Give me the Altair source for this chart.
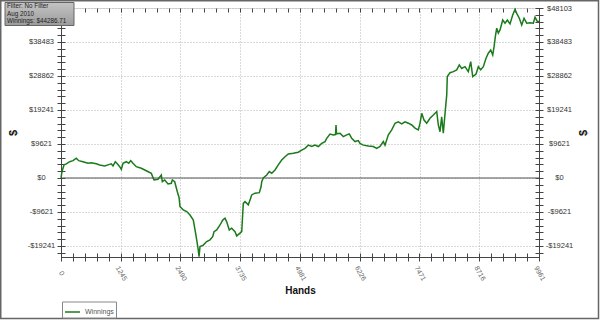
import altair as alt
import pandas as pd

hands = [
    0, 21, 63, 110, 181, 250, 319, 369, 458, 563,
    631, 736, 806, 911, 979, 1048, 1084, 1132, 1173, 1223,
    1257, 1292, 1361, 1411, 1453, 1500, 1569, 1673, 1778, 1882,
    1938, 2021, 2090, 2111, 2161, 2230, 2299, 2320, 2370, 2424,
    2460, 2480, 2549, 2620, 2688, 2757, 2793, 2828, 2861, 2876,
    2897, 2966, 3036, 3105, 3161, 3189, 3245, 3314, 3370, 3418,
    3453, 3507, 3557, 3626, 3662, 3730, 3766, 3799, 3835, 3903,
    3939, 3974, 4043, 4133, 4169, 4183, 4216, 4287, 4341, 4391,
    4460, 4528, 4599, 4668, 4737, 4841, 4945, 5016, 5085, 5154,
    5225, 5293, 5362, 5433, 5502, 5537, 5606, 5675, 5721, 5731,
    5742, 5814, 5883, 5954, 6008, 6058, 6127, 6196, 6231, 6300,
    6404, 6508, 6579, 6648, 6717, 6752, 6821, 6892, 6961, 7029,
    7100, 7169, 7239, 7309, 7377, 7446, 7482, 7517, 7565, 7621,
    7690, 7759, 7830, 7863, 7898, 7933, 7967, 8003, 8038, 8050,
    8107, 8176, 8246, 8300, 8350, 8419, 8488, 8538, 8580, 8649,
    8697, 8746, 8801, 8857, 8905, 8955, 8997, 9024, 9051, 9080,
    9113, 9149, 9205, 9253, 9301, 9357, 9413, 9461, 9497, 9551,
    9601, 9649, 9705, 9774, 9843, 9878, 9926, 9961,
]
winnings = [
    0, 1800, 3700, 4000, 4600, 4900, 5600, 4900, 4600, 4150,
    4300, 4000, 3700, 3400, 3700, 4000, 3400, 4600, 4000, 3200,
    2450, 4150, 4600, 4150, 4900, 4150, 3200, 2750, 2050, 1300,
    -570, -370, 850, -1050, -570, -1700, -1500, -570, -1050, -3900,
    -5500, -8100, -9050, -9500, -10500, -11900, -14700, -17500, -20400, -22300,
    -19400, -19000, -18000, -17500, -16600, -15200, -14700, -13300, -11900, -11400,
    -12400, -14700, -14200, -15200, -16400, -15600, -15200, -7200, -6700, -7600,
    -6200, -4800, -4300, -4150, -2500, -1050, 0, 850, 1800, 1350,
    2260, 3700, 5100, 6000, 6800, 7000, 7300, 7900, 8400, 9300,
    8900, 9300, 8900, 9800, 10300, 11200, 12450, 12200, 12300, 15000,
    12500, 12650, 11700, 12200, 12450, 11200, 10300, 10600, 9800, 9300,
    9050, 8900, 8400, 8900, 10300, 9300, 12200, 13600, 15500, 15900,
    15300, 15900, 15500, 15000, 14100, 13600, 15500, 18300, 16400, 15500,
    16900, 17800, 18800, 15000, 13100, 17300, 12650, 18300, 23500, 28700,
    29800, 30100, 30600, 32000, 31000, 31500, 30100, 32900, 28700, 29400,
    31500, 30600, 31500, 33900, 35300, 36200, 34800, 37100, 40000, 42400,
    41000, 41900, 44700, 43800, 44700, 43600, 46100, 47700, 46600, 45200,
    43300, 45200, 43800, 43900, 43800, 45500, 44300, 44286.71,
]
series_name = "Winnings"
x_tick_labels = [0, 1245, 2490, 3735, 4981, 6226, 7471, 8716, 9961]
y_tick_labels = [-19241, -9621, 0, 9621, 19241, 28862, 38483, 48103]
x_domain = [0, 9961]
y_domain = [-22360, 48103]
info_lines = ["Filter: No Filter", "Aug 2010", "Winnings: $44286.71"]


def with_minor(major, lo, hi):
    step = (major[1] - major[0]) / 5.0
    out = []
    v = major[0]
    while v - step >= lo:
        v -= step
    while v <= hi + 0.01:
        out.append(round(v, 2))
        v += step
    return out


x_all = with_minor(x_tick_labels, x_domain[0], x_domain[1])
y_all = with_minor(y_tick_labels, y_domain[0], y_domain[1])

FONT = "Liberation Sans"
AX = "#444444"
GRID = "#b4b4b4"

df = pd.DataFrame({"Hands": hands, "Winnings": winnings, "series": [series_name] * len(hands)})
one = pd.DataFrame({"a": [0]})
zero_df = pd.DataFrame({"zero": [0]})

xs = alt.Scale(domain=x_domain, nice=False, zero=False)
ys = alt.Scale(domain=y_domain, nice=False, zero=False)

y_label_expr = "datum.value < 0 ? '-$' + abs(datum.value) : '$' + datum.value"
# on the left the top label sits under the info box, as in the reference
y_label_expr_left = ("datum.value >= %d ? '' : (%s)" % (y_tick_labels[-1], y_label_expr))

line = alt.Chart(df).mark_line(strokeWidth=1.5).encode(
    x=alt.X("Hands:Q", scale=xs, axis=alt.Axis(
        values=x_tick_labels, orient="bottom", title="Hands", format="d",
        labelAngle=60, labelAlign="center", labelBaseline="middle", labelPadding=16,
        labelFlush=False, labelOverlap=False, labelFontSize=7, labelFont=FONT,
        labelColor="#666666", ticks=False, tickSize=0, grid=True, gridDash=[1, 2],
        gridColor=GRID, domainColor=AX, titleFont=FONT, titleFontSize=10,
        titleFontWeight="bold", titleColor="#111111", titleY=33, titleBaseline="middle")),
    y=alt.Y("Winnings:Q", scale=ys, axis=alt.Axis(
        values=y_tick_labels, orient="left", title="$", labelExpr=y_label_expr_left,
        labelAlign="center", labelBaseline="middle", labelPadding=20, labelFlush=False,
        labelOverlap=False, labelFontSize=7.5, labelFont=FONT, labelColor="#333333",
        ticks=False, tickSize=0, grid=True, gridDash=[1, 2], gridColor=GRID,
        domainColor=AX, titleFont=FONT, titleFontSize=11, titleFontWeight="bold",
        titleColor="#111111", titleAngle=270, titleX=-48, titleY=124.5,
        titleAlign="center", titleBaseline="middle")),
    color=alt.Color("series:N", scale=alt.Scale(range=["#1b7a1b"]), legend=alt.Legend(
        title=None, orient="none", legendX=1, legendY=293.5, symbolType="stroke",
        symbolSize=225, symbolStrokeWidth=1.5, labelFont=FONT, labelFontSize=7,
        labelColor="#555555", labelOffset=4, labelBaseline="middle", padding=2,
        strokeColor="#888888", fillColor="#ffffff")),
)

ticks_lb = alt.Chart(df).mark_line(opacity=0).encode(
    x=alt.X("Hands:Q", scale=xs, axis=alt.Axis(
        values=x_all, orient="bottom", offset=-4, tickSize=8, labels=False,
        domain=False, grid=False, title=None, tickColor=AX)),
    y=alt.Y("Winnings:Q", scale=ys, axis=alt.Axis(
        values=y_all, orient="left", offset=-4, tickSize=8, labels=False,
        domain=False, grid=False, title=None, tickColor=AX)),
)

right_lab = alt.Chart(df).mark_line(opacity=0).encode(
    x=alt.X("Hands:Q", scale=xs, axis=None),
    y=alt.Y("Winnings:Q", scale=ys, axis=alt.Axis(
        values=y_tick_labels, orient="right", title="$", labelExpr=y_label_expr,
        labelAlign="center", labelBaseline="middle", labelPadding=20, labelFlush=False,
        labelOverlap=False, labelFontSize=7.5, labelFont=FONT, labelColor="#333333",
        ticks=False, tickSize=0, grid=False, domainColor=AX, titleFont=FONT,
        titleFontSize=11, titleFontWeight="bold", titleColor="#111111",
        titleAngle=270, titleX=44, titleY=124.5, titleAlign="center",
        titleBaseline="middle")),
)

ticks_rt = alt.Chart(df).mark_line(opacity=0).encode(
    x=alt.X("Hands:Q", scale=xs, axis=alt.Axis(
        values=x_all, orient="top", offset=-4, tickSize=4, labels=False,
        domain=False, grid=False, title=None, tickColor=AX)),
    y=alt.Y("Winnings:Q", scale=ys, axis=alt.Axis(
        values=y_all, orient="right", offset=-4, tickSize=8, labels=False,
        domain=False, grid=False, title=None, tickColor=AX)),
)

zero_rule = alt.Chart(zero_df).mark_rule(color="#555555", strokeWidth=1).encode(
    y=alt.Y("zero:Q", scale=ys, axis=None)
)

info_box = alt.Chart(one).mark_rect(
    color=alt.LinearGradient(
        gradient="linear",
        stops=[alt.GradientStop(color="#c4c4c4", offset=0),
               alt.GradientStop(color="#9c9c9c", offset=1)],
        x1=0, x2=0, y1=0, y2=1),
    stroke="#666666", strokeWidth=1,
).encode(x=alt.value(-56), x2=alt.value(13), y=alt.value(-5.5), y2=alt.value(17.5))

info_layers = []
for i, txt in enumerate(info_lines):
    info_layers.append(
        alt.Chart(one).mark_text(
            text=txt, align="left", baseline="middle", fontSize=6.3, font=FONT,
            color="#222222",
        ).encode(x=alt.value(-54), y=alt.value(-1.8 + 7.6 * i))
    )

border = alt.Chart(one).mark_rect(
    filled=False, stroke="#666666", strokeWidth=1.5
).encode(x=alt.value(-60.25), x2=alt.value(537.5), y=alt.value(-7.25), y2=alt.value(310.5))

chart = alt.layer(
    zero_rule, line, ticks_lb, right_lab, ticks_rt, info_box, *info_layers, border
).resolve_axis(
    x="independent", y="independent"
).properties(
    width=478, height=249, autosize="none",
    padding={"left": 61, "top": 8, "right": 61, "bottom": 63},
).configure_view(stroke=None).configure(background="#ffffff")

chart.save("out.html", embed_options={"renderer": "svg", "actions": False})
